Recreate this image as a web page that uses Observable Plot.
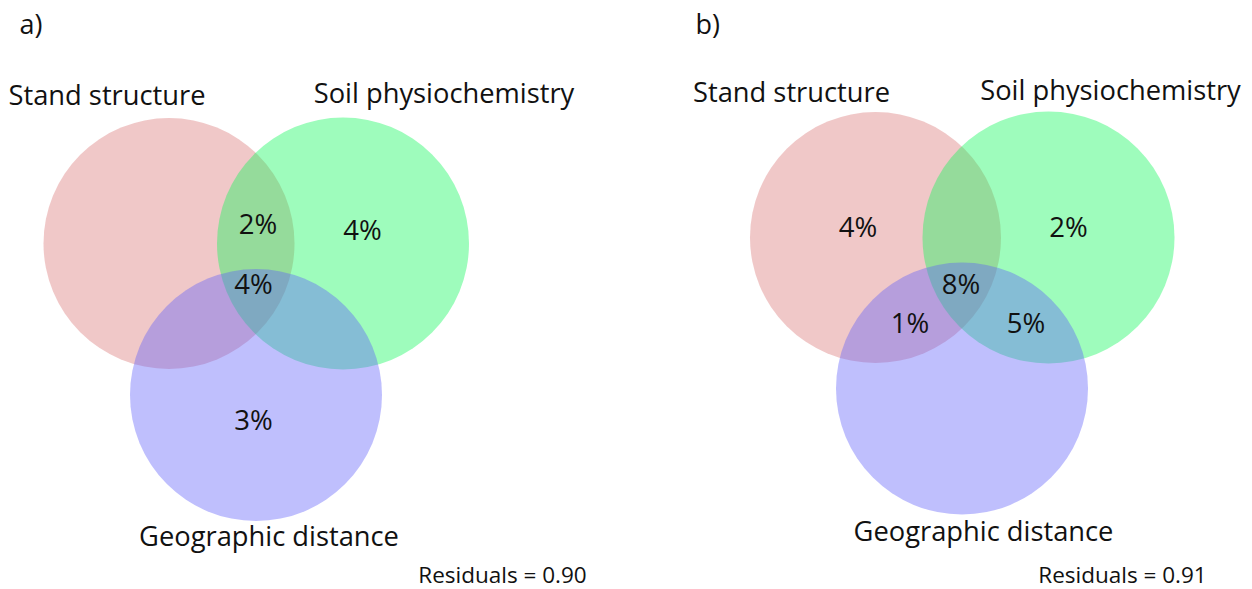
<!DOCTYPE html>
<html>
<head>
<meta charset="utf-8">
<script src="https://cdn.jsdelivr.net/npm/d3@7"></script>
<script src="https://cdn.jsdelivr.net/npm/@observablehq/plot@0.6"></script>
<style>
  html, body { margin: 0; padding: 0; background: #fff; }
  #chart svg { display: block; }
</style>
</head>
<body>
<div id="chart"></div>
<script>
// ---- data ----
const panels = ["a)", "b)"];
const setNames = ["Stand structure", "Soil physiochemistry", "Geographic distance"];
const residuals = [0.90, 0.91];
// region percentages per panel: [region, value]
const regionsA = [["SS∩SP", 2], ["SP", 4], ["SS∩SP∩GD", 4], ["GD", 3]];
const regionsB = [["SS", 4], ["SP", 2], ["SS∩SP∩GD", 8], ["SS∩GD", 1], ["SP∩GD", 5]];

// ---- layout (diagram units) ----
const circleCx = [[168.5, 342.5, 255.5], [875, 1048, 961.5]];
const circleCy = [[243, 243, 394.5], [237, 237, 388]];
const circleR  = [[125.5, 126, 126], [125.5, 126, 126]];
const setLabelX = [[106.5, 443.5, 268.5], [791, 1110, 983]];
const setLabelY = [[104, 102, 545], [101, 99, 540]];
const panelLabelX = [19, 695];
const residualX = [502, 1122];
const regionPosA = [[257.5, 233], [362, 239], [253, 293], [253, 429]];
const regionPosB = [[857.5, 236], [1068, 236], [960.5, 293], [909.5, 332], [1025.5, 332]];
const setColors = ["#da7676", "#0df858", "#5f5ffa"];

// ---- build tables ----
const circles = [];
panels.forEach((p, i) => setNames.forEach((s, j) => circles.push({
  panel: p, set: s, x: circleCx[i][j], y: circleCy[i][j], r: circleR[i][j], color: setColors[j]
})));
const setLabels = [];
panels.forEach((p, i) => setNames.forEach((s, j) => setLabels.push({
  text: s, x: setLabelX[i][j], y: setLabelY[i][j]
})));
const regionLabels = [
  ...regionsA.map(([k, v], i) => ({text: v + "%", x: regionPosA[i][0], y: regionPosA[i][1]})),
  ...regionsB.map(([k, v], i) => ({text: v + "%", x: regionPosB[i][0], y: regionPosB[i][1]}))
];
const panelLabels = panels.map((p, i) => ({text: p, x: panelLabelX[i], y: 33}));
const residualLabels = residuals.map((v, i) => ({text: "Residuals = " + v.toFixed(2), x: residualX[i], y: 582}));

const font = "Open Sans";
const chart = Plot.plot({
  width: 1252,
  height: 589,
  margin: 0,
  x: {domain: [0, 1252], range: [0, 1252], axis: null},
  y: {domain: [0, 589], range: [0, 589], axis: null},
  r: {type: "identity"},
  style: {background: "#fff", fontFamily: font},
  marks: [
    Plot.dot(circles, {x: "x", y: "y", r: "r", fill: "color", fillOpacity: 0.4, stroke: null, sort: null}),
    Plot.text(setLabels, {x: "x", y: "y", text: "text", fontSize: 27.3, fill: "#111", lineAnchor: "bottom", textAnchor: "middle", fontFamily: font}),
    Plot.text(regionLabels, {x: "x", y: "y", text: "text", fontSize: 27.5, fill: "#111", lineAnchor: "bottom", textAnchor: "middle", fontFamily: font}),
    Plot.text(panelLabels, {x: "x", y: "y", text: "text", fontSize: 27, fill: "#111", lineAnchor: "bottom", textAnchor: "start", fontFamily: font}),
    Plot.text(residualLabels, {x: "x", y: "y", text: "text", fontSize: 22.5, fill: "#111", lineAnchor: "bottom", textAnchor: "middle", fontFamily: font})
  ]
});
document.getElementById("chart").appendChild(chart);
</script>
</body>
</html>
